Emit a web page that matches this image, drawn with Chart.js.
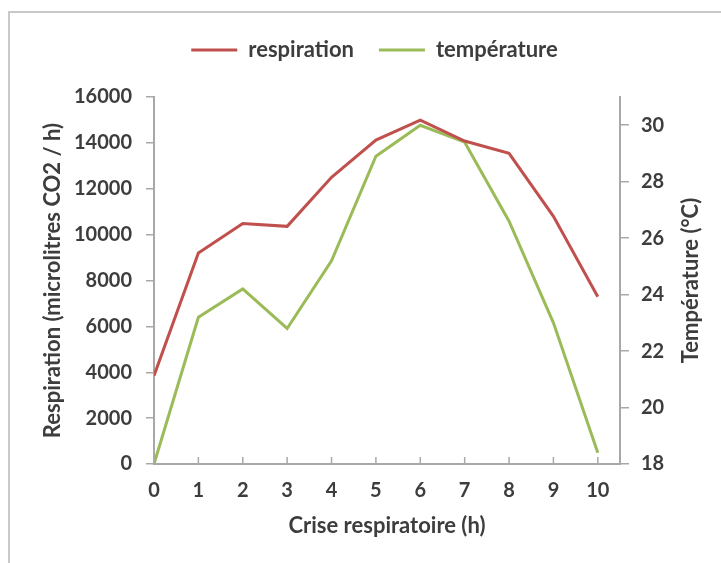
<!DOCTYPE html>
<html>
<head>
<meta charset="utf-8">
<script src="https://cdn.jsdelivr.net/npm/chart.js@4/dist/chart.umd.min.js"></script>
<style>
  html, body { margin: 0; padding: 0; background: #fff; }
  #wrap { position: relative; width: 721px; height: 563px; }
  #frame { position: absolute; left: 8px; top: 11px; right: -4px; bottom: -4px; border-left: 2px solid #c9c9c9; border-top: 2px solid #c9c9c9; pointer-events: none; }
</style>
</head>
<body>
<div id="wrap">
  <canvas id="c" width="721" height="563"></canvas>
  <div id="frame"></div>
</div>
<script>
const hours = [0, 1, 2, 3, 4, 5, 6, 7, 8, 9, 10];
const respiration = [3850, 9200, 10480, 10360, 12500, 14120, 14990, 14080, 13540, 10800, 7290];
const temperature = [18.0, 23.2, 24.2, 22.8, 25.2, 28.9, 30.0, 29.4, 26.6, 23.0, 18.4];
const seriesNames = ['respiration', 'température'];
const xTitle = 'Crise respiratoire (h)';
const yLeftTitle = 'Respiration (microlitres CO2 / h)';
const yRightTitle = 'Température (°C)';

const FONT = 'Lato';
const TXT = '#3d3d3d';
const AX = '#a8a8a8';
const TICKFONT = { family: FONT, size: 20, weight: 'bold' };
const TITLEFONT = { family: FONT, size: 22, weight: 'bold' };
const LEGEND_EXTRA = 26;

const legendSpace = {
  id: 'legendSpace',
  afterInit(chart) {
    const l = chart.legend;
    if (!l) return;
    const f = l.fit.bind(l);
    l.fit = function () { f(); this.height += LEGEND_EXTRA; };
  }
};

const insideXTicks = {
  id: 'insideXTicks',
  afterDatasetsDraw(chart) {
    const x = chart.scales.x;
    const ctx = chart.ctx;
    ctx.save();
    ctx.strokeStyle = AX;
    ctx.lineWidth = 1.5;
    x.ticks.forEach(t => {
      const px = x.getPixelForValue(t.value);
      ctx.beginPath();
      ctx.moveTo(px, x.top);
      ctx.lineTo(px, x.top - 7);
      ctx.stroke();
    });
    ctx.restore();
  }
};

const rightTitle = {
  id: 'rightTitle',
  afterDraw(chart) {
    const s = chart.scales.y2;
    const ctx = chart.ctx;
    ctx.save();
    ctx.font = 'bold ' + TITLEFONT.size + 'px ' + FONT;
    ctx.fillStyle = TXT;
    ctx.textAlign = 'center';
    ctx.textBaseline = 'middle';
    ctx.translate(s.right - 30, (s.top + s.bottom) / 2);
    ctx.rotate(-Math.PI / 2);
    ctx.fillText(yRightTitle, 0, 0);
    ctx.restore();
  }
};

new Chart(document.getElementById('c'), {
  type: 'line',
  data: {
    datasets: [
      { label: seriesNames[0], data: hours.map((h, i) => ({ x: h, y: respiration[i] })), borderColor: '#c0504d', backgroundColor: '#c0504d', borderWidth: 3, pointRadius: 0, tension: 0, yAxisID: 'y' },
      { label: seriesNames[1], data: hours.map((h, i) => ({ x: h, y: temperature[i] })), borderColor: '#9bbb59', backgroundColor: '#9bbb59', borderWidth: 3, pointRadius: 0, tension: 0, yAxisID: 'y2' }
    ]
  },
  options: {
    responsive: false,
    animation: false,
    layout: { padding: { left: 28, right: 0, top: 14, bottom: 0 } },
    plugins: {
      legend: {
        position: 'top',
        labels: {
          usePointStyle: true,
          pointStyle: 'line',
          pointStyleWidth: 46,
          boxHeight: 22,
          padding: 25,
          color: TXT,
          font: TITLEFONT
        }
      },
      tooltip: { enabled: false }
    },
    scales: {
      x: {
        type: 'linear',
        min: 0, max: 10.5,
        afterBuildTicks(s) { s.ticks = hours.map(h => ({ value: h })); },
        afterFit(s) { s.height = 99; },
        grid: { drawOnChartArea: false, drawTicks: false },
        border: { color: AX, width: 2 },
        ticks: { stepSize: 1, padding: 15, color: TXT, font: TICKFONT, callback: v => String(v) },
        title: { display: true, text: xTitle, color: TXT, padding: { top: 0, bottom: 24 }, font: TITLEFONT }
      },
      y: {
        position: 'left',
        min: 0, max: 16000,
        afterFit(s) { s.width = 126; },
        grid: { drawOnChartArea: false, tickLength: 8, color: AX, lineWidth: 1.5 },
        border: { color: AX, width: 2 },
        ticks: { stepSize: 2000, padding: 14, color: TXT, font: TICKFONT, callback: v => String(v) },
        title: { display: true, text: yLeftTitle, color: TXT, padding: { top: 12, bottom: 0 }, font: TITLEFONT }
      },
      y2: {
        position: 'right',
        min: 18, max: 31,
        afterBuildTicks(s) { s.ticks = s.ticks.filter(t => t.value <= 30); },
        afterFit(s) { s.width = 101; },
        grid: { drawOnChartArea: false, tickLength: 9, color: AX, lineWidth: 1.5 },
        border: { color: AX, width: 2 },
        ticks: { stepSize: 2, padding: 12, color: TXT, font: TICKFONT, callback: v => String(v) },
        title: { display: false }
      }
    }
  },
  plugins: [legendSpace, insideXTicks, rightTitle]
});
</script>
</body>
</html>
